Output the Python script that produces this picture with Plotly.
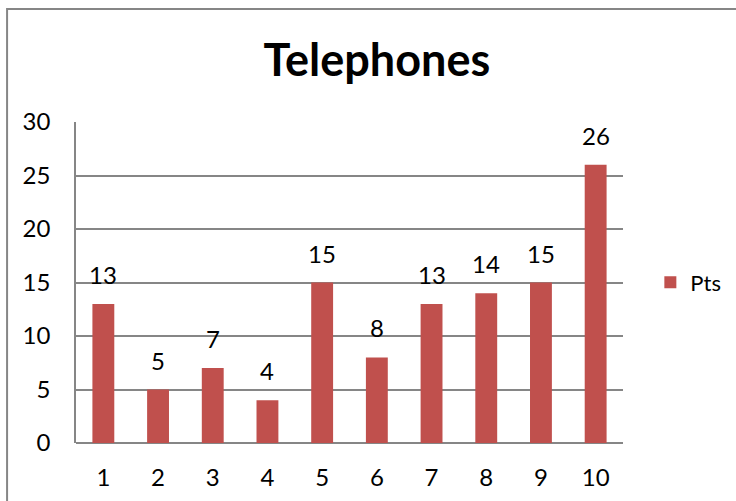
import plotly.graph_objects as go

categories = [1, 2, 3, 4, 5, 6, 7, 8, 9, 10]
pts = [13, 5, 7, 4, 15, 8, 13, 14, 15, 26]
y_ticks = [0, 5, 10, 15, 20, 25, 30]

BAR = "#C0504D"
GRID = "#868686"
FONT = "Lato, Carlito, Calibri, sans-serif"

fig = go.Figure()
fig.add_trace(go.Bar(
    x=categories, y=pts, name="Pts",
    marker=dict(color=BAR, line=dict(width=0)),
    width=0.4,
))

# value labels above each bar
for c, v in zip(categories, pts):
    fig.add_annotation(
        x=c, y=v, text=str(v), showarrow=False,
        yanchor="bottom", yshift=13,
        font=dict(size=24, color="#000000", family=FONT),
    )

# outer chart frame
fig.add_shape(
    type="rect", xref="paper", yref="paper",
    x0=-0.126, x1=1.227, y0=-0.2, y1=1.352,
    line=dict(color=GRID, width=2), fillcolor="rgba(0,0,0,0)",
    layer="below",
)

fig.update_layout(
    width=736, height=501,
    margin=dict(l=76, r=113, t=122, b=58, autoexpand=False),
    paper_bgcolor="white", plot_bgcolor="white",
    font=dict(family=FONT, size=24, color="#000000"),
    title=dict(
        text="<b>Telephones</b>", x=0.512, xanchor="center",
        y=0.88, yanchor="middle",
        font=dict(size=45, family=FONT, color="#000000"),
    ),
    showlegend=True,
    legend=dict(
        x=1.05, y=0.5, xanchor="left", yanchor="middle",
        font=dict(size=22, family=FONT),
        itemwidth=30,
    ),
    xaxis=dict(
        range=[0.5, 10.5], tickvals=categories,
        showgrid=False, showline=False, zeroline=False,
        ticks="", ticklabelstandoff=18,
        tickfont=dict(size=24),
    ),
    yaxis=dict(
        range=[0, 30], tickvals=y_ticks, showgrid=True, gridcolor=GRID,
        gridwidth=1.5, zeroline=True, zerolinecolor=GRID, zerolinewidth=1.5,
        showline=True, linecolor=GRID, linewidth=1.5,
        ticks="", ticklabelstandoff=19, tickfont=dict(size=24),
    ),
)

fig.write_html("out.html")
